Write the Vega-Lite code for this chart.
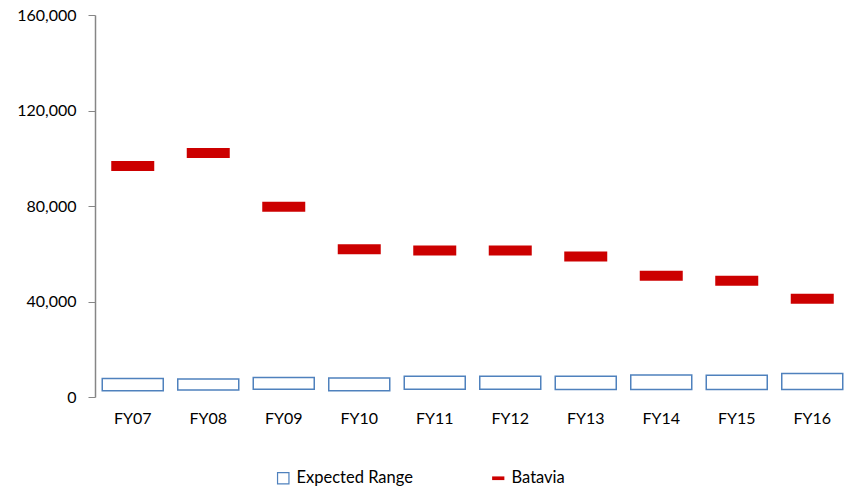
{
  "$schema": "https://vega.github.io/schema/vega-lite/v6.json",
  "width": 749,
  "height": 382,
  "autosize": {"type": "none"},
  "padding": {"left": 95, "top": 15, "right": 0, "bottom": 94},
  "background": "white",
  "config": {"view": {"stroke": null}, "font": "Lato"},
  "datasets": {
    "ranges": [
      {"fy": "FY07", "low": 2600, "high": 7700, "series": "Expected Range"},
      {"fy": "FY08", "low": 2900, "high": 7500, "series": "Expected Range"},
      {"fy": "FY09", "low": 3200, "high": 8200, "series": "Expected Range"},
      {"fy": "FY10", "low": 2600, "high": 8000, "series": "Expected Range"},
      {"fy": "FY11", "low": 3200, "high": 8700, "series": "Expected Range"},
      {"fy": "FY12", "low": 3200, "high": 8700, "series": "Expected Range"},
      {"fy": "FY13", "low": 3100, "high": 8700, "series": "Expected Range"},
      {"fy": "FY14", "low": 3100, "high": 9200, "series": "Expected Range"},
      {"fy": "FY15", "low": 3100, "high": 9100, "series": "Expected Range"},
      {"fy": "FY16", "low": 3100, "high": 9800, "series": "Expected Range"}
    ],
    "batavia": [
      {"fy": "FY07", "value": 96800, "series": "Batavia"},
      {"fy": "FY08", "value": 102200, "series": "Batavia"},
      {"fy": "FY09", "value": 79700, "series": "Batavia"},
      {"fy": "FY10", "value": 61900, "series": "Batavia"},
      {"fy": "FY11", "value": 61400, "series": "Batavia"},
      {"fy": "FY12", "value": 61400, "series": "Batavia"},
      {"fy": "FY13", "value": 58800, "series": "Batavia"},
      {"fy": "FY14", "value": 50800, "series": "Batavia"},
      {"fy": "FY15", "value": 48700, "series": "Batavia"},
      {"fy": "FY16", "value": 41200, "series": "Batavia"}
    ]
  },
  "encoding": {
    "x": {
      "field": "fy", "type": "nominal", "title": null, "sort": null,
      "scale": {"range": [0, 755], "paddingInner": 0.192, "paddingOuter": 0.096},
      "axis": {"domain": false, "ticks": false, "labelAngle": 0, "labelFont": "Lato", "labelFontSize": 16, "labelColor": "#000000", "labelPadding": 13, "grid": false}
    }
  },
  "layer": [
    {
      "data": {"name": "ranges"},
      "mark": {"type": "bar", "strokeWidth": 1.5, "fill": "white"},
      "encoding": {
        "y": {
          "field": "low", "type": "quantitative", "title": null,
          "scale": {"domain": [0, 160000], "nice": false},
          "axis": {"values": [0, 40000, 80000, 120000, 160000], "format": ",.0f", "grid": false, "domainColor": "#868686", "domainWidth": 1.5, "tickColor": "#868686", "tickWidth": 1, "tickSize": 7, "labelPadding": 12, "labelFont": "Lato", "labelFontSize": 16, "labelColor": "#000000"}
        },
        "y2": {"field": "high"},
        "stroke": {
          "field": "series", "type": "nominal",
          "scale": {"domain": ["Expected Range"], "range": ["#4F81BD"]},
          "legend": {
            "title": null, "orient": "none", "direction": "horizontal",
            "legendX": 180, "legendY": 455,
            "labelFont": "Lato", "labelFontSize": 16.5, "labelColor": "#000000",
            "symbolSize": 130, "labelOffset": 5, "symbolType": "square",
            "symbolFillColor": "white", "symbolStrokeWidth": 1.2
          }
        }
      }
    },
    {
      "data": {"name": "batavia"},
      "mark": {"type": "tick", "thickness": 10, "size": 43, "opacity": 1},
      "encoding": {
        "y": {"field": "value", "type": "quantitative"},
        "color": {
          "field": "series", "type": "nominal",
          "scale": {"domain": ["Batavia"], "range": ["#CC0000"]},
          "legend": {
            "title": null, "orient": "none", "direction": "horizontal",
            "legendX": 395, "legendY": 455,
            "labelFont": "Lato", "labelFontSize": 16.5, "labelColor": "#000000",
            "symbolSize": 150, "labelOffset": 5,
            "symbolType": "M-1,-0.3L1,-0.3L1,0.3L-1,0.3Z",
            "symbolStrokeWidth": 0, "symbolOpacity": 1
          }
        }
      }
    }
  ]
}
